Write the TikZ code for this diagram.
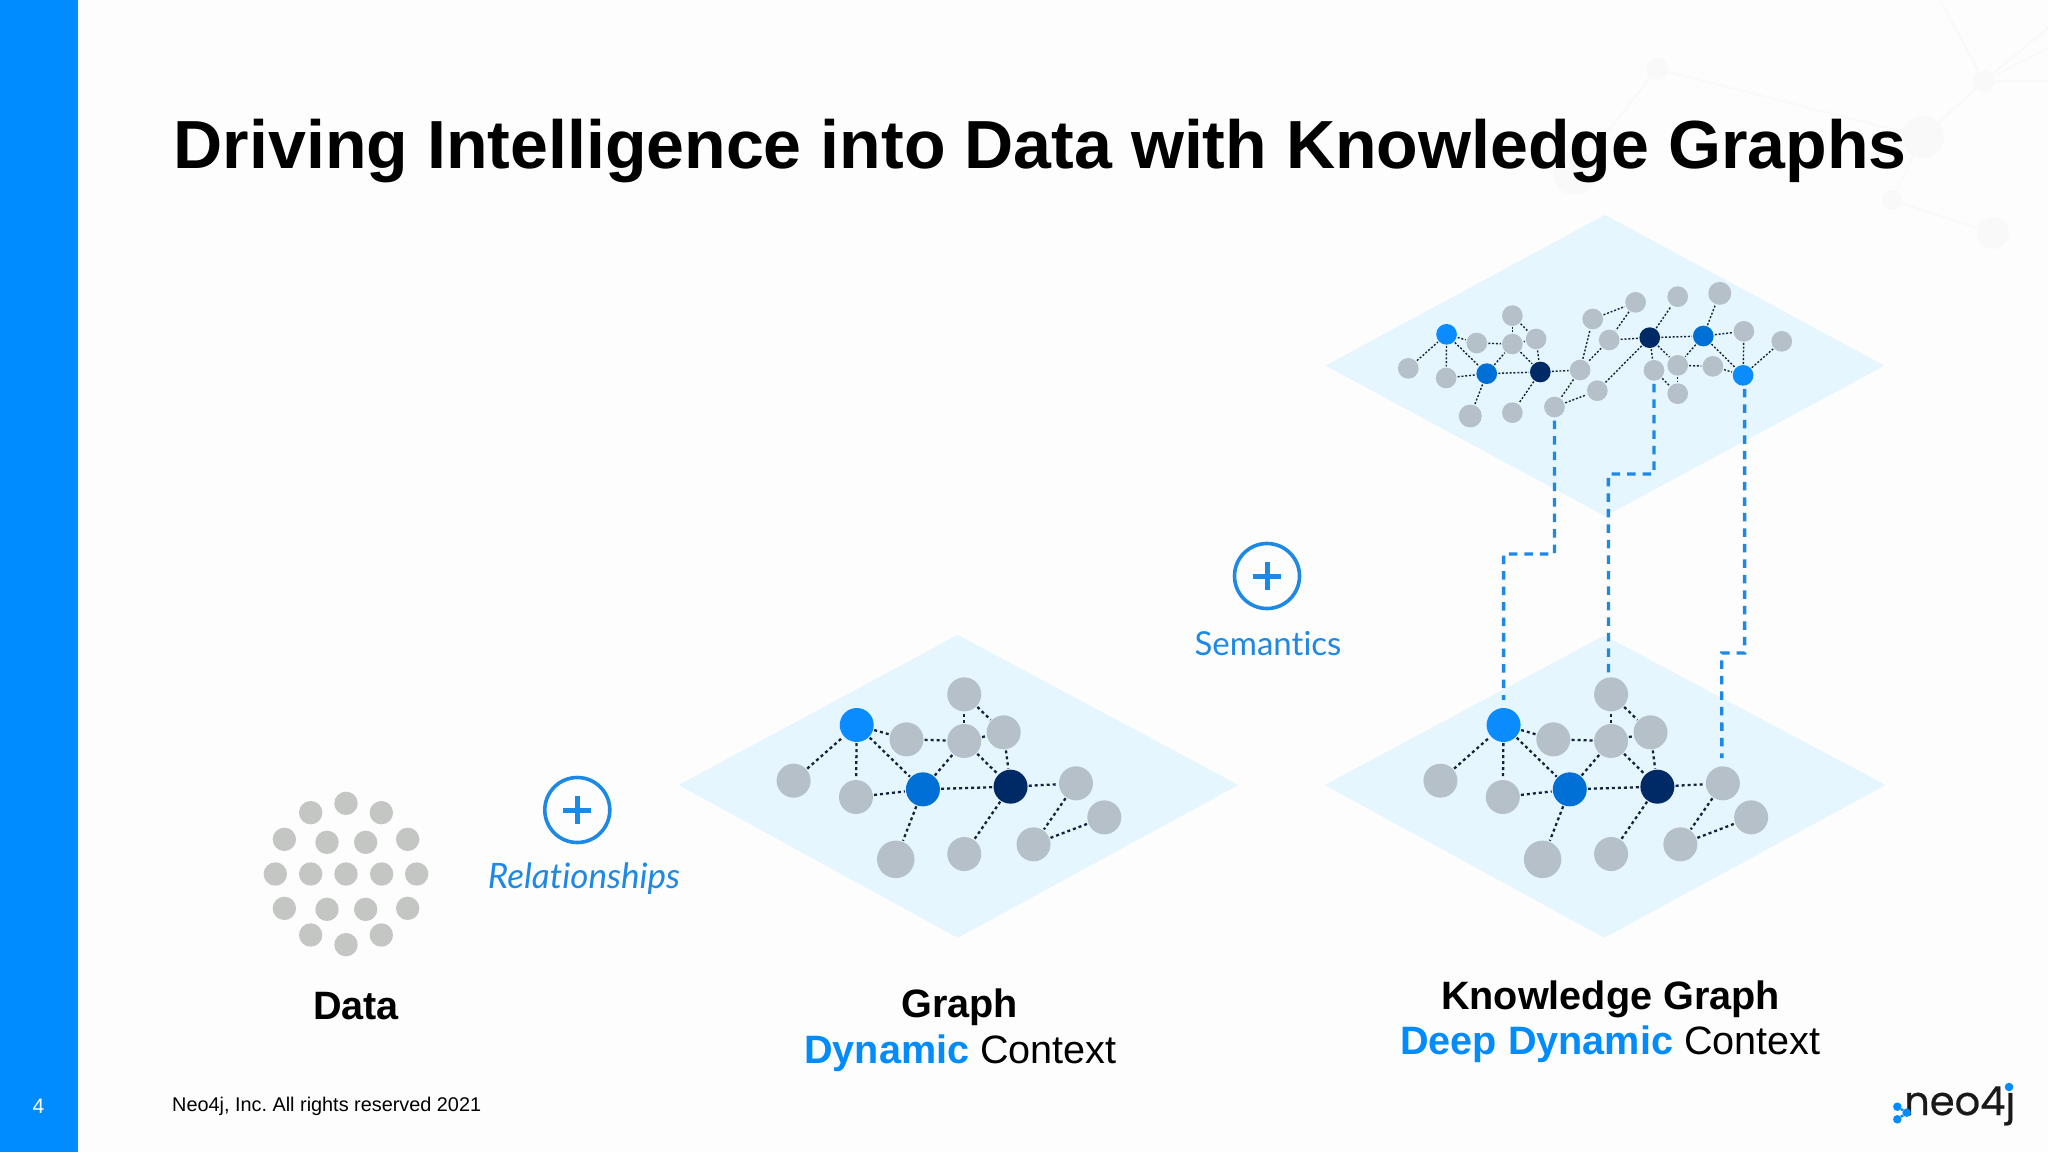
\documentclass[tikz,border=0pt]{standalone}
\usepackage{fontspec}
\setmainfont{Liberation Sans}
\newfontfamily\labelfont[Ligatures=NoCommon]{Lato}
\newfontfamily\logofont[FakeBold=0.5]{Poppins}
\usetikzlibrary{shapes.geometric}
\pgfdeclarelayer{plate}
\pgfdeclarelayer{links}
\pgfsetlayers{plate,links,main}
\definecolor{barblue}{HTML}{008CFF}
\definecolor{platecol}{HTML}{E6F6FF}
\definecolor{nodegray}{HTML}{B5C0C8}
\definecolor{nodebright}{HTML}{0A8CFF}
\definecolor{nodemid}{HTML}{006FD6}
\definecolor{nodenavy}{HTML}{002A66}
\definecolor{linkdark}{HTML}{15233A}
\definecolor{accent}{HTML}{1E88E5}
\definecolor{dotgray}{HTML}{C4C6C4}
\definecolor{pagebg}{HTML}{FDFDFD}
\definecolor{ghost}{HTML}{F8F9F8}
\tikzset{
  plateshape/.style={fill=platecol,draw=platecol,line width=2pt,line join=round},
  lowg/.style={circle,inner sep=0pt,minimum size=34pt,fill=#1},
  lowbig/.style={circle,inner sep=0pt,minimum size=37.5pt,fill=nodegray},
  topg/.style={circle,inner sep=0pt,minimum size=20.7pt,fill=#1},
  topbig/.style={circle,inner sep=0pt,minimum size=23pt,fill=nodegray},
  lowlink/.style={draw=linkdark,line width=2.3pt,dash pattern=on 3pt off 3pt,shorten <=1pt,shorten >=1pt},
  toplink/.style={draw=linkdark,line width=1.4pt,dash pattern=on 2pt off 1.8pt,shorten <=1pt,shorten >=1pt},
  bluedash/.style={draw=accent,line width=3.4pt,dash pattern=on 8.5pt off 7pt},
  datadot/.style={circle,inner sep=0pt,minimum size=23.4pt,fill=dotgray},
  plusring/.style={circle,inner sep=0pt,minimum size=65pt,draw=accent,line width=3.6pt},
  plusarm/.style={draw=accent,line width=5pt},
  title/.style={anchor=base west,inner sep=0pt,font=\fontsize{68.1}{68}\selectfont\bfseries},
  capt/.style={anchor=base,inner sep=0pt,font=\fontsize{39.6}{40}\selectfont},
  addlabel/.style={anchor=base,inner sep=0pt,text=accent,font=\labelfont\fontsize{33}{33}\selectfont},
  ghostn/.style={circle,inner sep=0pt,fill=ghost,minimum size=#1},
  ghostl/.style={draw=ghost,line width=2pt},
  logodot/.style={circle,inner sep=0pt,minimum size=8.5pt,fill=barblue}
}
\newcommand{\lowgraph}[2]{%
\begin{scope}[shift={(#2,620)},x=0.38265pt,y=-0.33333pt]
  \node[lowg=nodegray] (#1L) at (323,482) {};
  \node[lowg=nodebright] (#1A) at (488,315) {};
  \node[lowg=nodegray] (#1B) at (486,531) {};
  \node[lowg=nodemid] (#1C) at (661,508) {};
  \node[lowg=nodegray] (#1E) at (618,358) {};
  \node[lowg=nodegray] (#1F) at (769,363) {};
  \node[lowg=nodegray] (#1G) at (769,223) {};
  \node[lowg=nodegray] (#1H) at (872,337) {};
  \node[lowg=nodenavy] (#1D) at (890,500) {};
  \node[lowg=nodegray] (#1J) at (1061,490) {};
  \node[lowg=nodegray] (#1K) at (1135,592) {};
  \node[lowg=nodegray] (#1M) at (950,673) {};
  \node[lowg=nodegray] (#1N) at (769,702) {};
  \node[lowbig] (#1P) at (590,718) {};
\end{scope}
\begin{pgfonlayer}{links}
  \foreach \a/\b in {L/A,A/B,A/E,A/C,B/C,C/F,C/D,C/P,E/F,F/G,G/H,F/H,F/D,H/D,D/J,D/N,J/M,M/K}
    \draw[lowlink] (#1\a) -- (#1\b);
\end{pgfonlayer}}
\begin{document}
\begin{tikzpicture}[x=1pt,y=-1pt]
\useasboundingbox (0,0) rectangle (2048,1152);
\begin{pgfonlayer}{plate}
  \fill[pagebg] (0,0) rectangle (2048,1152);
  \node[ghostn=22pt] (w1) at (1657,69) {};
  \node[ghostn=22pt] (w2) at (1984,81) {};
  \node[ghostn=42pt] (w3) at (1923,137) {};
  \node[ghostn=20pt] (w4) at (1892,200) {};
  \node[ghostn=32pt] (w5) at (1993,233) {};
  \node[ghostn=44pt] (w6) at (1575,173) {};
  \coordinate (we1) at (2048,81);
  \coordinate (we2) at (2048,28);
  \coordinate (we3) at (2048,48);
  \coordinate (we4) at (1940,0);
  \draw[ghostl] (w1)--(w3) (w1)--(w6) (w2)--(w3) (w3)--(w4) (w4)--(w5) (w2)--(we1) (w2)--(we2) (w2)--(we3) (w2)--(we4);
  \fill[barblue] (0,0) rectangle (78,1152);
  \begin{scope}[shift={(670,620)},x=0.38265pt,y=-0.33333pt]
    \path[plateshape] (28,495) -- (752,48) -- (1480,495) -- (752,950) -- cycle;
  \end{scope}
  \begin{scope}[shift={(1300,620)},x=0.38265pt,y=-0.33333pt]
    \path[plateshape] (70,495) -- (795,50) -- (1525,495) -- (795,950) -- cycle;
  \end{scope}
  \begin{scope}[shift={(1300,200)},x=0.38265pt,y=-0.33333pt]
    \path[plateshape] (72,497) -- (797,48) -- (1522,497) -- (797,945) -- cycle;
  \end{scope}
\end{pgfonlayer}

\node[title] (ttl) at (173.5,168.5) {Driving Intelligence into Data with Knowledge Graphs};

% data cloud
\begin{scope}[shift={(240,760)},x=0.33333pt,y=-0.33333pt]
  \foreach \i/\p/\q in {1/318/130,2/212/158,3/424/158,4/133/238,5/261/247,6/377/247,7/503/238,8/106/342,9/212/342,10/318/342,11/425/342,12/530/342,13/133/445,14/261/448,15/377/448,16/503/445,17/212/525,18/424/525,19/318/554}
    \node[datadot] (dot\i) at (\p,\q) {};
\end{scope}

% plus icons
\node[plusring] (plusR) at (577.3,810) {};
\draw[plusarm] ([xshift=-14pt]plusR.center) -- ([xshift=14pt]plusR.center);
\draw[plusarm] ([yshift=-14pt]plusR.center) -- ([yshift=14pt]plusR.center);
\node[addlabel,font=\labelfont\fontsize{35}{35}\selectfont] (relT) at (584,888) {\itshape Relationships};
\node[plusring] (plusS) at (1267,576) {};
\draw[plusarm] ([xshift=-14pt]plusS.center) -- ([xshift=14pt]plusS.center);
\draw[plusarm] ([yshift=-14pt]plusS.center) -- ([yshift=14pt]plusS.center);
\node[addlabel] (semT) at (1268,655) {Semantics};

\lowgraph{g}{670}
\lowgraph{k}{1316.84}

% top graph
\begin{scope}[shift={(1300,200)},x=0.38265pt,y=-0.33333pt]
  \foreach \n/\p/\q in {a/283/505,c/382/534,e/462/429,f/555/432,g/555/347,h/617/417,k/555/638,l/732/510,m/665/621,n/777/572,o/765/357,p/877/307,q/808/420,t/925/511,u/987/496,v/987/581,w/987/290,y/1160/394,z/1079/499,B/1259/424}
    \node[topg=nodegray] (t\n) at (\p,\q) {};
  \node[topbig] (tj) at (445,648) {};
  \node[topbig] (tx) at (1097,280) {};
  \node[topg=nodebright] (tb) at (383,403) {};
  \node[topg=nodemid] (td) at (488,521) {};
  \node[topg=nodenavy] (ti) at (628,516) {};
  \node[topg=nodenavy] (tr) at (914,413) {};
  \node[topg=nodemid] (ts) at (1054,408) {};
  \node[topg=nodebright] (tA) at (1158,526) {};
\end{scope}
\begin{pgfonlayer}{links}
  \foreach \a/\b in {a/b,b/c,b/e,b/d,c/d,d/f,d/i,d/j,e/f,f/g,g/h,f/h,f/i,h/i,i/l,i/k,l/m,m/n,l/o,o/p,p/q,q/l,q/r,r/n,r/w,r/s,r/t,r/u,t/v,u/v,s/u,s/x,s/y,s/A,u/z,z/A,y/A,A/B}
    \draw[toplink] (t\a) -- (t\b);
  % connectors between the planes
  \coordinate (bendA) at (1503.6,554);
  \coordinate (bendB) at (1608.4,474);
  \coordinate (bendC) at (1721.7,653);
  \draw[bluedash,shorten <=3pt,shorten >=8pt] (tm.south) |- (bendA) -- (kA.north);
  \draw[bluedash,shorten <=3pt] (tt.south) |- (bendB) -- ([xshift=-2.6pt]kG.north);
  \draw[bluedash,shorten <=3pt,shorten >=8pt] ([xshift=1.5pt]tA.south) |- (bendC) -- ([xshift=-1pt]kJ.north);
\end{pgfonlayer}

% captions
\node[capt] (capD) at (356,1019) {\bfseries Data};
\node[capt] (capG) at (959.5,1017) {\bfseries Graph};
\node[capt] (capG2) at (960.5,1063) {\textcolor{barblue}{\bfseries Dynamic} Context};
\node[capt] (capK) at (1610.5,1009) {\bfseries Knowledge Graph};
\node[capt] (capK2) at (1610.5,1054) {\textcolor{barblue}{\bfseries Deep Dynamic} Context};

% footer
\node[anchor=base west,inner sep=0pt,font=\fontsize{19.85}{20}\selectfont\frenchspacing] (foot) at (172,1111) {Neo4j, Inc. All rights reserved 2021};
\node[anchor=base,inner sep=0pt,text=white,font=\fontsize{21}{21}\selectfont] (pg) at (38.5,1113) {4};

% logo
\node[anchor=base west,inner sep=0pt,text=black!90,font=\logofont\fontsize{40}{40}\selectfont] (logo) at (1904,1115) {neo4j};
\node[logodot] (l1) at (1897.3,1106.7) {};
\node[logodot] (l2) at (1906.7,1112.7) {};
\node[logodot] (l3) at (1897.3,1119.3) {};
\draw[barblue,line width=2.5pt] (l1)--(l2)--(l3);
\node[logodot] (l4) at (2009,1087) {};
\end{tikzpicture}
\end{document}
